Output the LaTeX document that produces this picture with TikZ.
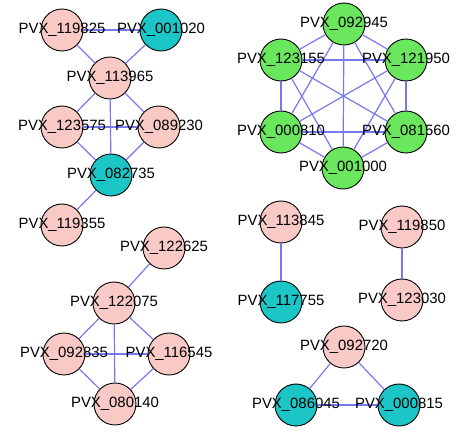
\documentclass[tikz,border=0pt]{standalone}
\usepackage{fontspec}
\setmainfont{Liberation Sans}
\begin{document}
\begin{tikzpicture}[x=1pt,y=-1pt,
  vx/.style={circle,draw=black,line width=0.9pt,minimum size=42pt,inner sep=0pt},
  pinkv/.style={vx,fill=nodepink},
  tealv/.style={vx,fill=nodeteal},
  greenv/.style={vx,fill=nodegreen},
  lbl/.style={font=\fontsize{14.9}{16}\selectfont,text=black,inner sep=0pt},
  edge/.style={draw=edgeblue,line width=1.2pt}]
\definecolor{nodepink}{HTML}{F8C9C5}
\definecolor{nodeteal}{HTML}{1CC6C6}
\definecolor{nodegreen}{HTML}{6BE75E}
\definecolor{edgeblue}{HTML}{7777EE}
\useasboundingbox (0,0) rectangle (459,433);
% vertices
\foreach \n/\s/\x/\y in {
  a1/pinkv/62/30, a2/tealv/161/30, a3/pinkv/110/78, a4/pinkv/62/127,
  a5/pinkv/159/127, a6/tealv/111/175, a7/pinkv/62/225,
  b1/greenv/344/24, b2/greenv/281/60, b3/greenv/406/60, b4/greenv/281/132,
  b5/greenv/406/132, b6/greenv/343/168,
  c1/pinkv/164/248, c2/pinkv/114/303, c3/pinkv/64/354, c4/pinkv/169/354,
  c5/pinkv/115/404,
  d1/pinkv/281/222, d2/tealv/281/302, d3/pinkv/402/227, d4/pinkv/402/300,
  d5/pinkv/344/347, d6/tealv/296/405, d7/tealv/399/405}
  \node[\s] (\n) at (\x,\y) {};
% interaction edges, from rim to rim
\foreach \u/\v in {a1/a2,a1/a3,a2/a3,a3/a4,a3/a5,a3/a6,a4/a5,a4/a6,a5/a6,a6/a7,
  b1/b2,b1/b3,b1/b4,b1/b5,b1/b6,b2/b3,b2/b4,b2/b5,b2/b6,b3/b4,b3/b5,b3/b6,
  b4/b5,b4/b6,b5/b6,
  c1/c2,c2/c3,c2/c4,c2/c5,c3/c4,c3/c5,c4/c5,
  d1/d2,d3/d4,d5/d6,d5/d7,d6/d7}
  \path[edge] (\u) -- (\v);
% labels on top
\foreach \n/\t in {a1/119825,a2/001020,a3/113965,a4/123575,a5/089230,a6/082735,
  a7/119355,b1/092945,b2/123155,b3/121950,b4/000810,b5/081560,b6/001000,
  c1/122625,c2/122075,c3/092835,c4/116545,c5/080140,
  d1/113845,d2/117755,d3/119850,d4/123030,d5/092720,d6/086045,d7/000815}
  \node[lbl] (t\n) at (\n.center) {PVX\_\t};
\end{tikzpicture}
\end{document}
